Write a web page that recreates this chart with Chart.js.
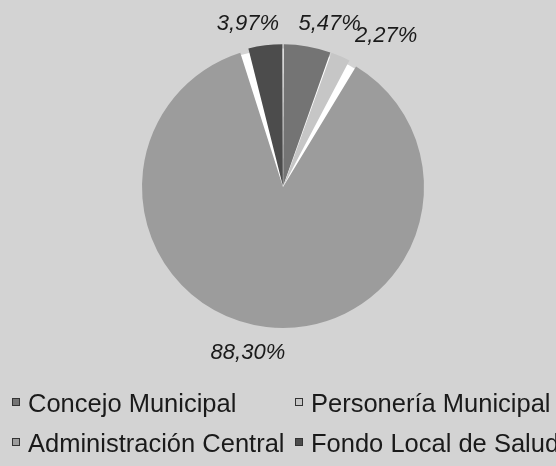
<!DOCTYPE html>
<html>
<head>
<meta charset="utf-8">
<script src="https://cdn.jsdelivr.net/npm/chart.js@4/dist/chart.umd.min.js"></script>
<style>
  html, body { margin: 0; padding: 0; background: #d3d3d3; }
  #wrap { width: 556px; height: 466px; position: relative; }
</style>
</head>
<body>
<div id="wrap"><canvas id="c" width="556" height="466"></canvas></div>
<script>
// ---- data ----
const categories = ['Concejo Municipal', 'Personería Municipal', 'Administración Central', 'Fondo Local de Salud'];
const shares = [5.47, 2.27, 88.30, 3.97];

// ---- styles ----
const sliceColors = ['#747474', '#c6c6c6', '#9c9c9c', '#4c4c4c'];
const labelNudge = [[19, -4], [38, -3], [-16, 6], [-15, -3]];

function fmt(v) { return v.toFixed(2).replace('.', ',') + '%'; }

const bgPlugin = {
  id: 'bg',
  beforeDraw(chart) {
    const ctx = chart.ctx;
    ctx.save();
    ctx.fillStyle = '#d3d3d3';
    ctx.fillRect(0, 0, chart.width, chart.height);
    ctx.restore();
  },
  beforeDatasetsDraw(chart) {
    // white backing so the gaps between slices read as white, as in the scan
    const arc = chart.getDatasetMeta(0).data[0];
    if (!arc) return;
    const p = arc.getProps(['x', 'y', 'outerRadius'], true);
    const ctx = chart.ctx;
    ctx.save();
    ctx.fillStyle = '#ffffff';
    ctx.beginPath();
    ctx.arc(p.x, p.y, p.outerRadius - 1, 0, Math.PI * 2);
    ctx.fill();
    ctx.restore();
  }
};

const labelPlugin = {
  id: 'sliceLabels',
  afterDatasetsDraw(chart) {
    const ctx = chart.ctx;
    const meta = chart.getDatasetMeta(0);
    ctx.save();
    ctx.font = 'italic 22px "Liberation Sans", Arial, sans-serif';
    ctx.fillStyle = '#1a1a1a';
    ctx.textAlign = 'center';
    ctx.textBaseline = 'middle';
    meta.data.forEach((arc, i) => {
      const p = arc.getProps(['x', 'y', 'startAngle', 'endAngle', 'outerRadius'], true);
      const mid = (p.startAngle + p.endAngle) / 2;
      const r = p.outerRadius + 22;
      const x = p.x + Math.cos(mid) * r + labelNudge[i][0];
      const y = p.y + Math.sin(mid) * r + labelNudge[i][1];
      ctx.fillText(fmt(chart.data.datasets[0].data[i]), x, y);
    });
    ctx.restore();
  }
};

const legendPlugin = {
  id: 'gridLegend',
  afterDraw(chart) {
    const ctx = chart.ctx;
    const colX = [12, 295];
    const rowY = [412, 452];
    ctx.save();
    ctx.font = '25.5px "Liberation Sans", Arial, sans-serif';
    ctx.textBaseline = 'alphabetic';
    ctx.textAlign = 'left';
    chart.data.labels.forEach((lab, i) => {
      const cx = colX[i % 2];
      const cy = rowY[Math.floor(i / 2)];
      ctx.fillStyle = sliceColors[i];
      ctx.fillRect(cx, cy - 14, 8, 8);
      ctx.strokeStyle = '#333';
      ctx.lineWidth = 1;
      ctx.strokeRect(cx + 0.5, cy - 13.5, 7, 7);
      ctx.fillStyle = '#1a1a1a';
      ctx.fillText(lab, cx + 16, cy);
    });
    ctx.restore();
  }
};

new Chart(document.getElementById('c'), {
  type: 'pie',
  data: {
    labels: categories,
    datasets: [{
      data: shares,
      backgroundColor: sliceColors,
      borderWidth: 0,
      spacing: 3,
      offset: [4, 4, 0, 4]
    }]
  },
  options: {
    responsive: false,
    animation: false,
    layout: { padding: { top: 44, bottom: 136, left: 10, right: 0 } },
    plugins: {
      legend: { display: false },
      tooltip: { enabled: false }
    }
  },
  plugins: [bgPlugin, labelPlugin, legendPlugin]
});
</script>
</body>
</html>
